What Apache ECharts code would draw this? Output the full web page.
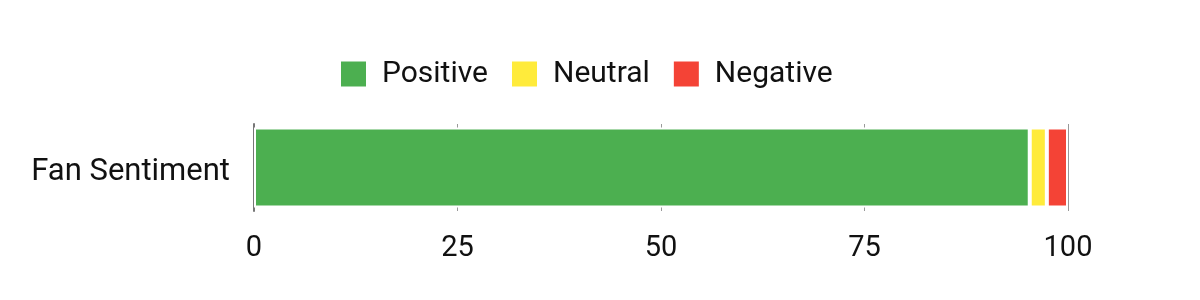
<!DOCTYPE html>
<html><head><meta charset="utf-8">
<script src="https://cdn.jsdelivr.net/npm/echarts@6/dist/echarts.min.js"></script>
<style>html,body{margin:0;padding:0;background:#fff}#c{width:1200px;height:300px}</style>
</head><body><div id="c"></div>
<script>
var categories = ['Fan Sentiment'];
var seriesNames = ['Positive', 'Neutral', 'Negative'];
var positive = [95.3];
var neutral = [2.1];
var negative = [2.6];
var tickValues = [0, 25, 50, 75, 100];
var colors = ['#4CAF50', '#FFEB3B', '#F44336'];
var values = [positive, neutral, negative];

var chart = echarts.init(document.getElementById('c'));
chart.setOption({
  animation: false,
  textStyle: { fontFamily: 'Roboto' },
  legend: {
    top: 54, left: 336,
    itemWidth: 25, itemHeight: 25, itemGap: 24,
    textStyle: { fontSize: 30, color: '#111', fontFamily: 'Roboto', padding: [0, 0, 0, 11] },
    data: seriesNames.map(function (n, i) { return { name: n, icon: 'rect', itemStyle: { color: colors[i], borderWidth: 0 } }; })
  },
  grid: { left: 254, right: 132, top: 124, bottom: 89, containLabel: false },
  xAxis: {
    type: 'value', min: tickValues[0], max: tickValues[tickValues.length - 1], interval: 25,
    axisLine: { show: false }, axisTick: { show: false },
    splitLine: { show: true, lineStyle: { color: '#999', width: 1 } },
    axisLabel: { fontSize: 29, color: '#111', margin: 23, fontFamily: 'Roboto' }
  },
  yAxis: {
    type: 'category', data: categories,
    axisLine: { show: true, lineStyle: { color: '#777', width: 2 } },
    axisTick: { show: false },
    axisLabel: { fontSize: 31, color: '#111', margin: 24, fontFamily: 'Roboto', verticalAlign: 'top', lineHeight: 9 }
  },
  series: seriesNames.map(function (n, i) {
    return {
      name: n, type: 'bar', stack: 'total', barWidth: 80,
      data: values[i],
      itemStyle: { color: colors[i], borderColor: '#fff', borderWidth: 2 }
    };
  })
});
</script></body></html>
